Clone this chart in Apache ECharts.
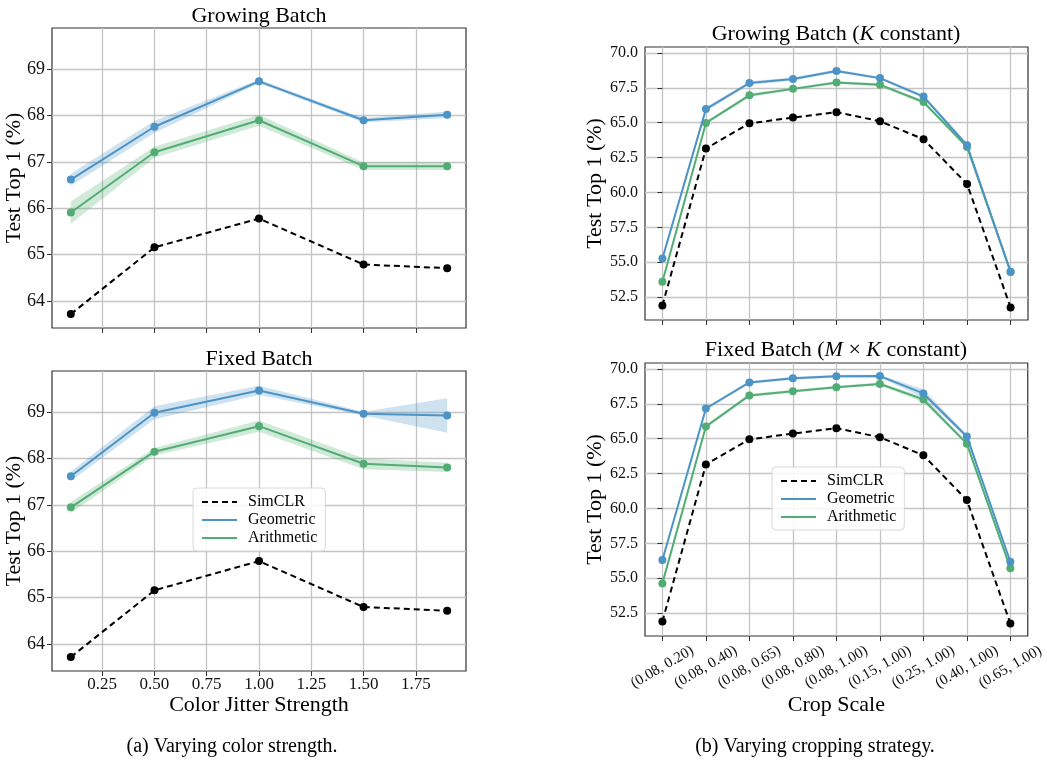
<!DOCTYPE html>
<html>
<head>
<meta charset="utf-8">
<script src="https://cdn.jsdelivr.net/npm/echarts@6/dist/echarts.min.js"></script>
<style>
html,body{margin:0;padding:0;background:#fff;}
#chart{width:1047px;height:762px;}
</style>
</head>
<body>
<div id="chart"></div>
<script>
// ---- data ----
const colorX = [0.1, 0.5, 1.0, 1.5, 1.9];
const colorTicks = [0.25, 0.5, 0.75, 1.0, 1.25, 1.5, 1.75];
const leftYTicks = [64, 65, 66, 67, 68, 69];
const gbSim = [63.72, 65.16, 65.78, 64.79, 64.71];
const gbGeo = [66.62, 67.76, 68.74, 67.90, 68.02];
const gbGeoErr = [0.13, 0.13, 0.04, 0.05, 0.07];
const gbAri = [65.91, 67.21, 67.90, 66.91, 66.91];
const gbAriErr = [0.24, 0.12, 0.12, 0.08, 0.08];
const fbSim = [63.72, 65.16, 65.79, 64.80, 64.72];
const fbGeo = [67.62, 68.99, 69.47, 68.97, 68.93];
const fbGeoErr = [0.10, 0.14, 0.10, 0.04, 0.37];
const fbAri = [66.95, 68.15, 68.70, 67.89, 67.81];
const fbAriErr = [0.12, 0.08, 0.12, 0.12, 0.10];

const cropLabels = ['(0.08, 0.20)', '(0.08, 0.40)', '(0.08, 0.65)', '(0.08, 0.80)', '(0.08, 1.00)',
                    '(0.15, 1.00)', '(0.25, 1.00)', '(0.40, 1.00)', '(0.65, 1.00)'];
const rightYTicks = [52.5, 55.0, 57.5, 60.0, 62.5, 65.0, 67.5, 70.0];
const gkSim = [51.90, 63.14, 64.95, 65.36, 65.75, 65.10, 63.81, 60.60, 51.76];
const gkGeo = [55.26, 65.97, 67.84, 68.12, 68.70, 68.19, 66.87, 63.38, 54.32];
const gkGeoErr = [0.15, 0.15, 0.12, 0.12, 0.10, 0.10, 0.12, 0.15, 0.10];
const gkAri = [53.60, 64.98, 66.96, 67.42, 67.87, 67.71, 66.48, 63.26, 54.30];
const gkAriErr = [0.10, 0.10, 0.12, 0.10, 0.10, 0.12, 0.12, 0.10, 0.10];
const mkSim = [51.90, 63.14, 64.95, 65.36, 65.75, 65.10, 63.81, 60.60, 51.76];
const mkGeo = [56.30, 67.16, 69.03, 69.32, 69.47, 69.48, 68.24, 65.16, 56.18];
const mkGeoErr = [0.10, 0.10, 0.10, 0.10, 0.10, 0.10, 0.30, 0.15, 0.10];
const mkAri = [54.63, 65.87, 68.10, 68.40, 68.69, 68.92, 67.81, 64.64, 55.72];
const mkAriErr = [0.10, 0.15, 0.12, 0.10, 0.10, 0.10, 0.20, 0.12, 0.10];

const panelTitles = ['Growing Batch', 'Fixed Batch', 'Growing Batch ({i|K} constant)', 'Fixed Batch ({i|M} × {i|K} constant)'];
const captions = ['(a) Varying color strength.', '(b) Varying cropping strategy.'];
const names = ['SimCLR', 'Geometric', 'Arithmetic'];

// ---- style ----
const FONT = "'Liberation Serif', 'DejaVu Serif', serif";
const BLUE = '#4c93c6';
const GREEN = '#52ad74';
const BLUE_BAND = 'rgba(76,147,198,0.27)';
const GREEN_BAND = 'rgba(82,173,116,0.27)';
const cropIdx = cropLabels.map((_, i) => i);

function lineSeries(name, xi, xs, ys, color, dashed, z) {
  return {
    type: 'line', name: name, xAxisIndex: xi, yAxisIndex: xi,
    data: xs.map((x, i) => [x, ys[i]]),
    symbol: 'circle', symbolSize: 8, showSymbol: true,
    itemStyle: { color: color },
    lineStyle: { color: color, width: 2, type: dashed ? [6, 4] : 'solid' },
    z: z, animation: false, silent: true
  };
}
function bandSeries(xi, xs, ys, errs, fill) {
  return {
    type: 'custom', xAxisIndex: xi, yAxisIndex: xi, silent: true, z: 1,
    data: xs.map((x, i) => [x, ys[i] - errs[i], ys[i] + errs[i]]),
    encode: { x: 0, y: [1, 2] },
    renderItem: function (params, api) {
      if (params.dataIndex !== 0) return null;
      const pts = [];
      for (let i = 0; i < xs.length; i++) pts.push(api.coord([xs[i], ys[i] + errs[i]]));
      for (let i = xs.length - 1; i >= 0; i--) pts.push(api.coord([xs[i], ys[i] - errs[i]]));
      return { type: 'polygon', shape: { points: pts }, style: { fill: fill } };
    },
    animation: false
  };
}

const grids = [
  { left: 52, top: 28, width: 414, height: 300 },
  { left: 52, top: 371, width: 414, height: 300 },
  { left: 645, top: 47, width: 383, height: 273 },
  { left: 645, top: 363, width: 383, height: 273 }
].map(g => Object.assign(g, { show: true, borderColor: '#333', borderWidth: 1.2, backgroundColor: '#fff' }));

const splitLine = { show: true, lineStyle: { color: '#c4c4c4', width: 1.3 } };
function tick(values) { return { show: true, length: 5, customValues: values, lineStyle: { color: '#333' } }; }
const nameStyle = { fontFamily: FONT, fontSize: 22, color: '#000' };

function leftX(gi, showLabels, name) {
  return {
    type: 'value', gridIndex: gi, min: 0.01, max: 1.99,
    axisLine: { show: false }, axisTick: tick(colorTicks), splitLine: splitLine,
    axisLabel: { show: showLabels, customValues: colorTicks, fontFamily: FONT, fontSize: 17, color: '#111', margin: 5,
      formatter: v => Number(v).toFixed(2) },
    name: name, nameLocation: 'middle', nameGap: 23, nameMoveOverlap: false,
    nameTextStyle: nameStyle
  };
}
function leftY(gi) {
  return {
    type: 'value', gridIndex: gi, min: 63.42, max: 69.89,
    axisLine: { show: false }, axisTick: tick(leftYTicks), splitLine: splitLine,
    axisLabel: { customValues: leftYTicks, fontFamily: FONT, fontSize: 18, color: '#111', margin: 7,
      formatter: v => String(Math.round(v)) },
    name: 'Test Top 1 (%)', nameLocation: 'middle', nameGap: 27, nameMoveOverlap: false,
    nameTextStyle: nameStyle
  };
}
function rightX(gi, showLabels, name) {
  return {
    type: 'value', gridIndex: gi, min: -0.4, max: 8.4,
    axisLine: { show: false }, axisTick: tick(cropIdx), splitLine: splitLine,
    axisLabel: { show: showLabels, customValues: cropIdx, fontFamily: FONT, fontSize: 15, color: '#111',
      rotate: 30, align: 'center', verticalAlign: 'middle', margin: 31,
      formatter: v => cropLabels[Math.round(v)] },
    name: name, nameLocation: 'middle', nameGap: 58, nameMoveOverlap: false,
    nameTextStyle: nameStyle
  };
}
function rightY(gi) {
  return {
    type: 'value', gridIndex: gi, min: 50.86, max: 70.42,
    axisLine: { show: false }, axisTick: tick(rightYTicks), splitLine: splitLine,
    axisLabel: { customValues: rightYTicks, fontFamily: FONT, fontSize: 16, color: '#111', margin: 7,
      formatter: v => Number(v).toFixed(1) },
    name: 'Test Top 1 (%)', nameLocation: 'middle', nameGap: 39, nameMoveOverlap: false,
    nameTextStyle: nameStyle
  };
}

function panel(xi, xs, sim, geo, geoErr, ari, ariErr) {
  return [
    bandSeries(xi, xs, geo, geoErr, BLUE_BAND),
    bandSeries(xi, xs, ari, ariErr, GREEN_BAND),
    lineSeries(names[0], xi, xs, sim, '#000', true, 3),
    lineSeries(names[2], xi, xs, ari, GREEN, false, 4),
    lineSeries(names[1], xi, xs, geo, BLUE, false, 5)
  ];
}

function legend(left, top) {
  return {
    left: left, top: top, orient: 'vertical', data: names,
    itemWidth: 35, itemHeight: 12, itemGap: 2,
    padding: [6, 8, 5, 8],
    backgroundColor: 'rgba(255,255,255,0.85)', borderColor: '#d8d8d8', borderWidth: 1, borderRadius: 4,
    itemStyle: { opacity: 0 },
    textStyle: { fontFamily: FONT, fontSize: 16, color: '#000', padding: [0, 0, 0, 6] },
    selectedMode: false
  };
}

const titleStyle = { fontFamily: FONT, fontSize: 22, fontWeight: 'normal', color: '#000',
  rich: { i: { fontFamily: FONT, fontSize: 22, fontStyle: 'italic', color: '#000' } } };

const option = {
  backgroundColor: '#fff',
  animation: false,
  title: [
    { text: panelTitles[0], left: 259, top: 5, textAlign: 'center', textStyle: titleStyle, padding: 0 },
    { text: panelTitles[1], left: 259, top: 348, textAlign: 'center', textStyle: titleStyle, padding: 0 },
    { text: panelTitles[2], left: 836, top: 23, textAlign: 'center', textStyle: titleStyle, padding: 0 },
    { text: panelTitles[3], left: 836, top: 339, textAlign: 'center', textStyle: titleStyle, padding: 0 },
    { text: captions[0], left: 232, top: 737, textAlign: 'center', padding: 0,
      textStyle: { fontFamily: FONT, fontSize: 20, fontWeight: 'normal', color: '#000' } },
    { text: captions[1], left: 815, top: 737, textAlign: 'center', padding: 0,
      textStyle: { fontFamily: FONT, fontSize: 20, fontWeight: 'normal', color: '#000' } }
  ],
  legend: [legend(193, 488), legend(772, 467)],
  grid: grids,
  xAxis: [leftX(0, false, ''), leftX(1, true, 'Color Jitter Strength'), rightX(2, false, ''), rightX(3, true, 'Crop Scale')],
  yAxis: [leftY(0), leftY(1), rightY(2), rightY(3)],
  series: [].concat(
    panel(0, colorX, gbSim, gbGeo, gbGeoErr, gbAri, gbAriErr),
    panel(1, colorX, fbSim, fbGeo, fbGeoErr, fbAri, fbAriErr),
    panel(2, cropIdx, gkSim, gkGeo, gkGeoErr, gkAri, gkAriErr),
    panel(3, cropIdx, mkSim, mkGeo, mkGeoErr, mkAri, mkAriErr)
  )
};

const chart = echarts.init(document.getElementById('chart'), null, { renderer: 'canvas' });
chart.setOption(option);
</script>
</body>
</html>
